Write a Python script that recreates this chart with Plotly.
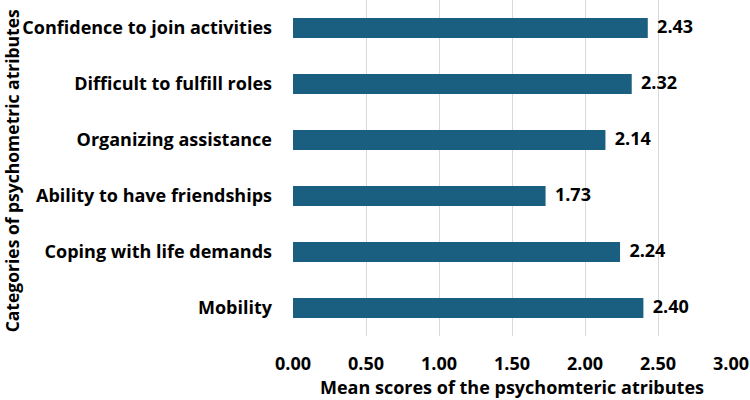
import plotly.graph_objects as go

categories = ["Mobility", "Coping with life demands", "Ability to have friendships",
              "Organizing assistance", "Difficult to fulfill roles", "Confidence to join activities"]
values = [2.40, 2.24, 1.73, 2.14, 2.32, 2.43]
labels = [f"{v:.2f}" for v in values]

FONT = "Open Sans"
fig = go.Figure()
fig.add_trace(go.Bar(
    x=values, y=categories, orientation="h",
    marker=dict(color="#1a5f80", line=dict(width=0)),
    hoverinfo="x+y",
))
fig.add_trace(go.Scatter(
    x=values, y=categories, mode="text", text=["  " + t for t in labels],
    textposition="middle right", cliponaxis=False, hoverinfo="skip",
    textfont=dict(family=FONT, size=18, color="#000000", weight="bold"),
))
fig.update_layout(
    width=750, height=400,
    margin=dict(l=293, r=19, t=0, b=64),
    plot_bgcolor="white", paper_bgcolor="white",
    bargap=0.64, showlegend=False,
    font=dict(family=FONT, size=18, color="#000000", weight="bold"),
    xaxis=dict(range=[0, 3], dtick=0.5, tickformat=".2f", showgrid=True,
               gridcolor="#d9d9d9", gridwidth=1, zeroline=False, showline=False,
               automargin=False, ticklabelstandoff=15,
               tickfont=dict(size=18, weight="bold"),
               title=dict(text="Mean scores of the psychomteric atributes",
                          font=dict(size=18, weight="bold"), standoff=6)),
    yaxis=dict(showgrid=False, showline=False, ticks="", ticklabelstandoff=20,
               automargin=False,
               tickfont=dict(size=18, weight="bold")),
    annotations=[dict(text="Categories of psychometric atributes", textangle=-90,
                      xref="paper", yref="paper", x=-295/438, y=0.49, xanchor="left",
                      yanchor="middle", showarrow=False,
                      font=dict(size=17.5, weight="bold"))],
)
fig.write_html("out.html", config={"displayModeBar": False},
               post_script="document.body.style.margin='0';")
